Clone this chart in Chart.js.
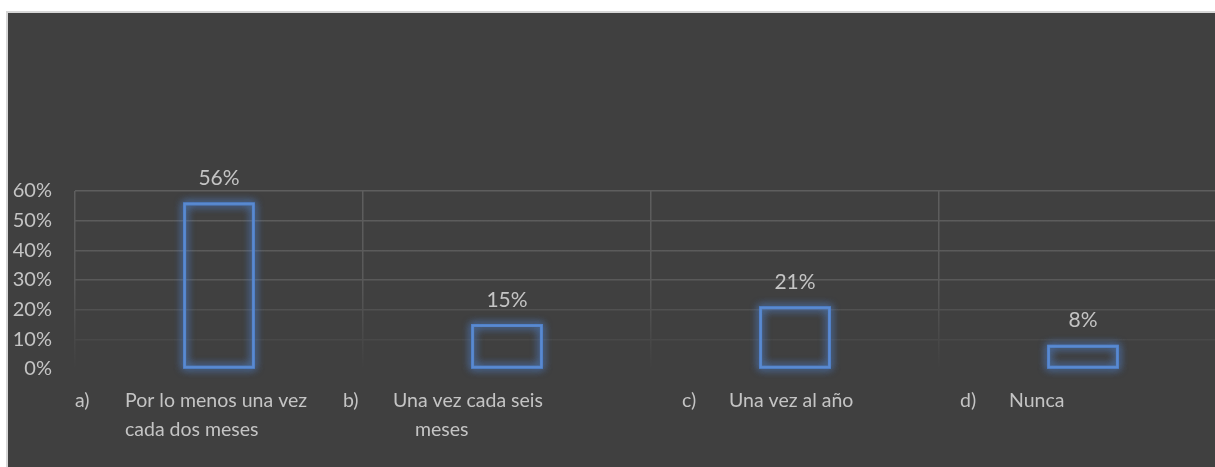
<!DOCTYPE html>
<html>
<head>
<meta charset="utf-8">
<script src="https://cdn.jsdelivr.net/npm/chart.js@4.4.1/dist/chart.umd.min.js"></script>
<style>
    html, body {
        margin: 0;
        padding: 0;
        background: #ffffff;
        overflow: hidden;
        width: 1215px;
        height: 467px;
    }
    #frame {
        position: absolute;
        left: 6px;
        top: 11px;
        width: 1240px;
        height: 460px;
        background: #404040;
        border: 2px solid #d6d6d6;
    }
    #chart {
        display: block;
    }
</style>
</head>
<body>
<div id="frame">
    <canvas id="chart" width="1240" height="454"></canvas>
</div>
<script>
// Survey answers (share of respondents)
const letters = ['a)', 'b)', 'c)', 'd)'];
const answers = [
    ['Por lo menos una vez', 'cada dos meses'],
    ['Una vez cada seis', 'meses'],
    ['Una vez al año'],
    ['Nunca']
];
const shares = [0.56, 0.15, 0.21, 0.08];
const valueLabels = ['56%', '15%', '21%', '8%'];

const TEXT_COLOR = '#c4c4c4';
const BAR_BLUE = '#5a8ad0';
const FONT = 'Lato, "Liberation Sans", sans-serif';

// label placement relative to each category centre (px), Excel tab-style layout
const LETTER_DX = [-144, -164, -113, -123];
const LINE_DX = [[-94, -94], [-114, -92], [-66], [-74]];

function gridGradient(context) {
    const chart = context.chart;
    const area = chart.chartArea;
    if (!area) return '#595959';
    const g = chart.ctx.createLinearGradient(0, area.top, 0, area.bottom);
    g.addColorStop(0, '#5e5e5e');
    g.addColorStop(0.5, '#595959');
    g.addColorStop(0.8, '#4a4a4a');
    g.addColorStop(1, '#404040');
    return g;
}

// soft blue glow round the bar outlines
const glowPlugin = {
    id: 'glow',
    beforeDatasetsDraw(chart) {
        const ctx = chart.ctx;
        const meta = chart.getDatasetMeta(0);
        ctx.save();
        ctx.shadowColor = 'rgba(80, 130, 205, 1)';
        ctx.shadowBlur = 9;
        ctx.strokeStyle = 'rgba(80, 130, 205, 0.8)';
        ctx.lineWidth = 3;
        for (let pass = 0; pass < 2; pass++) {
            meta.data.forEach(bar => {
                const w = bar.width;
                ctx.strokeRect(bar.x - w / 2 + 1, bar.y + 1, w - 2, bar.base - bar.y - 2);
            });
        }
        ctx.restore();
    },
    afterDatasetsDraw(chart) {
        const ctx = chart.ctx;
        const meta = chart.getDatasetMeta(0);
        ctx.save();
        ctx.fillStyle = TEXT_COLOR;
        ctx.font = '21px ' + FONT;
        ctx.textAlign = 'center';
        ctx.textBaseline = 'alphabetic';
        meta.data.forEach((bar, i) => {
            ctx.fillText(valueLabels[i], bar.x, bar.y - 18);
        });
        ctx.restore();
    },
    afterDraw(chart) {
        const ctx = chart.ctx;
        const x = chart.scales.x;
        const base = chart.chartArea.bottom;
        ctx.save();
        ctx.fillStyle = TEXT_COLOR;
        ctx.font = '19.5px ' + FONT;
        ctx.textAlign = 'left';
        ctx.textBaseline = 'alphabetic';
        letters.forEach((letter, i) => {
            const cx = x.getPixelForValue(i);
            ctx.fillText(letter, cx + LETTER_DX[i], base + 38);
            answers[i].forEach((line, j) => {
                ctx.fillText(line, cx + LINE_DX[i][j], base + 38 + j * 28.5);
            });
        });
        ctx.restore();
    }
};

new Chart(document.getElementById('chart'), {
    type: 'bar',
    data: {
        labels: letters,
        datasets: [{
            data: shares,
            backgroundColor: 'rgba(0,0,0,0)',
            borderColor: BAR_BLUE,
            borderWidth: 2,
            borderSkipped: false,
            categoryPercentage: 1,
            barPercentage: 0.246
        }]
    },
    options: {
        responsive: false,
        animation: false,
        layout: {
            padding: { top: 178, right: 21, left: 0, bottom: 0 }
        },
        plugins: {
            legend: { display: false },
            tooltip: { enabled: false }
        },
        scales: {
            x: {
                ticks: { display: false },
                grid: {
                    offset: true,
                    color: gridGradient,
                    lineWidth: 1.5,
                    drawTicks: false
                },
                border: { display: false },
                afterFit(scale) { scale.height = 98; }
            },
            y: {
                min: 0,
                max: 0.6,
                ticks: {
                    stepSize: 0.1,
                    padding: 23,
                    color: TEXT_COLOR,
                    font: { family: FONT, size: 20 },
                    callback: v => Math.round(v * 100) + '%'
                },
                grid: {
                    color: gridGradient,
                    lineWidth: 1.5,
                    drawTicks: false
                },
                border: { display: false },
                afterFit(scale) { scale.width = 67; }
            }
        }
    },
    plugins: [glowPlugin]
});
</script>
</body>
</html>
